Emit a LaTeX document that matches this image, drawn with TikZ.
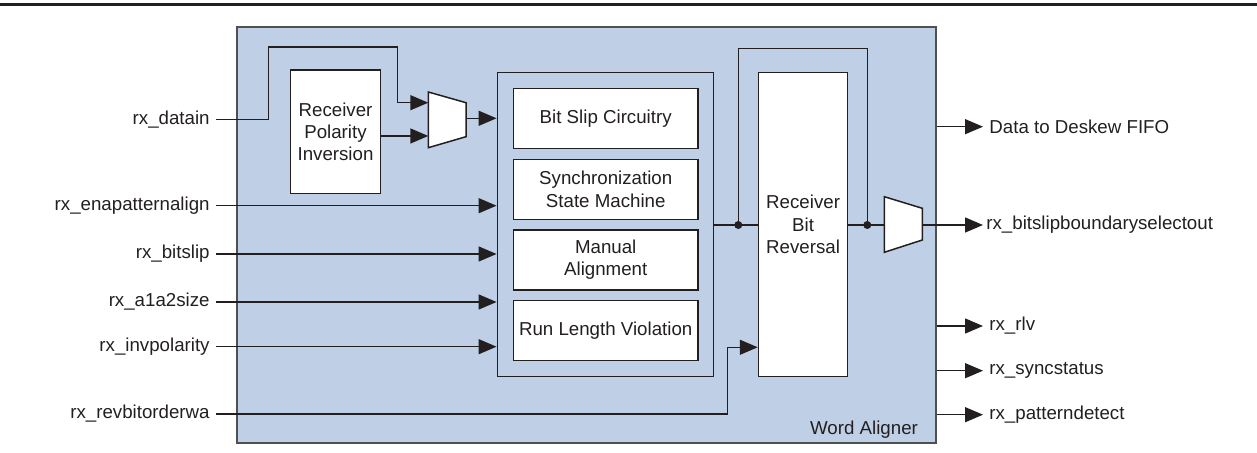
\documentclass[tikz,border=0pt]{standalone}
\usepackage{fontspec}
\setmainfont{Liberation Sans}
\usetikzlibrary{arrows.meta}
\definecolor{wafill}{RGB}{191,208,230}
\definecolor{ink}{RGB}{35,31,32}
\definecolor{wabord}{RGB}{80,80,80}
\begin{document}
\begin{tikzpicture}[x=0.5pt,y=-0.5pt,
  font=\fontsize{9.35pt}{11.1pt}\selectfont,
  wire/.style={draw=ink, line width=0.7pt},
  sig/.style={wire, -{Triangle[length=9pt,width=7.5pt]}},
  blk/.style={draw=ink, fill=white, line width=0.75pt, align=center, inner sep=0pt, text=ink},
  inlabel/.style={anchor=east, inner sep=3pt, text=ink},
  outlabel/.style={anchor=west, inner sep=3pt, text=ink},
  jdot/.style={circle, fill=ink, inner sep=0pt, minimum size=4pt}]
\useasboundingbox (0,0) rectangle (1257,453);
% top rule
\coordinate (ruleL) at (0,4.5);
\coordinate (ruleR) at (1257,4.5);
\draw[line width=1.7pt, ink] (ruleL) -- (ruleR);
% outer block
\node[draw=wabord, fill=wafill, line width=0.9pt, minimum width=349.5pt, minimum height=208.2pt, inner sep=0pt] (wa) at (586.2,234.85) {};
\node[anchor=base east, inner sep=0pt, text=ink] (walabel) at (918.3,435) {Word Aligner};
% blocks
\node[blk, minimum width=44.8pt, minimum height=61.65pt] (pol) at (335.5,131.7) {Receiver\\Polarity\\Inversion};
\node[blk, fill=wafill, minimum width=108.2pt, minimum height=152.1pt] (grp) at (605.5,224.6) {};
\node[blk, minimum width=92.35pt, minimum height=29.8pt] (bsc) at (605.7,118.5) {Bit Slip Circuitry};
\node[blk, minimum width=92.35pt, minimum height=30pt] (ssm) at (605.7,189.3) {Synchronization\\State Machine};
\node[blk, minimum width=92.35pt, minimum height=30pt] (man) at (605.7,260) {Manual\\Alignment};
\node[blk, minimum width=92.35pt, minimum height=30pt] (rlv) at (605.7,330.7) {Run Length Violation};
\node[blk, minimum width=44.6pt, minimum height=152.2pt] (rbr) at (803.1,224.5) {Receiver\\Bit\\Reversal};
% muxes
\draw[blk] (428.3,92) -- (466,102.7) -- (466,136.7) -- (428.3,147.7) -- cycle;
\draw[blk] (884.3,196.7) -- (922.3,208.3) -- (922.3,240) -- (884.3,252.3) -- cycle;
\coordinate (m1a) at (428.3,102.7);
\coordinate (m1b) at (428.3,136);
\coordinate (m1o) at (466,118.3);
\coordinate (m2i) at (884.3,225);
\coordinate (m2o) at (922.3,225);
% input labels
\node[inlabel] (ldat) at (216,119.3) {rx\_datain};
\node[inlabel] (lena) at (216,205.7) {rx\_enapatternalign};
\node[inlabel] (lbs) at (216,254) {rx\_bitslip};
\node[inlabel] (la1) at (216,302) {rx\_a1a2size};
\node[inlabel] (linv) at (216,346.7) {rx\_invpolarity};
\node[inlabel] (lrev) at (216,414) {rx\_revbitorderwa};
% output labels
\node[outlabel] (ldes) at (983,126.7) {Data to Deskew FIFO};
\node[outlabel, inner sep=1.5pt] (lbsb) at (983,225) {rx\_bitslipboundaryselectout};
\node[outlabel] (lrlv) at (983,326) {rx\_rlv};
\node[outlabel] (lsync) at (983,370.7) {rx\_syncstatus};
\node[outlabel] (lpat) at (983,414.7) {rx\_patterndetect};
% datain routing
\coordinate (dA) at (268.3,47);
\coordinate (dB) at (397.3,102.7);
\draw[sig] (ldat.east) -| (dA) -| (dB) -- (m1a);
\draw[sig] (pol.east |- m1b) -- (m1b);
\draw[sig] (m1o) -- (grp.west |- m1o);
% other inputs
\draw[sig] (lena.east) -- (grp.west |- lena.east);
\draw[sig] (lbs.east) -- (grp.west |- lbs.east);
\draw[sig] (la1.east) -- (grp.west |- la1.east);
\draw[sig] (linv.east) -- (grp.west |- linv.east);
\coordinate (rvA) at (727.3,347.3);
\draw[sig] (lrev.east) -| (rvA) -- (rbr.west |- rvA);
% group to bit reversal, bypass loop
\coordinate (j1) at (738.3,225);
\coordinate (j2) at (867.3,225);
\coordinate (loopR) at (867.3,48.3);
\draw[wire] (grp.east |- j1) -- (rbr.west |- j1);
\draw[wire] (j1) |- (loopR) -- (j2);
\draw[wire] (rbr.east |- j2) -- (m2i);
\node[jdot] (dot1) at (j1) {};
\node[jdot] (dot2) at (j2) {};
% outputs
\draw[sig] (m2o) -- (lbsb.west);
\draw[sig] (wa.east |- ldes.west) -- (ldes.west);
\draw[sig] (wa.east |- lrlv.west) -- (lrlv.west);
\draw[sig] (wa.east |- lsync.west) -- (lsync.west);
\draw[sig] (wa.east |- lpat.west) -- (lpat.west);
\end{tikzpicture}
\end{document}
